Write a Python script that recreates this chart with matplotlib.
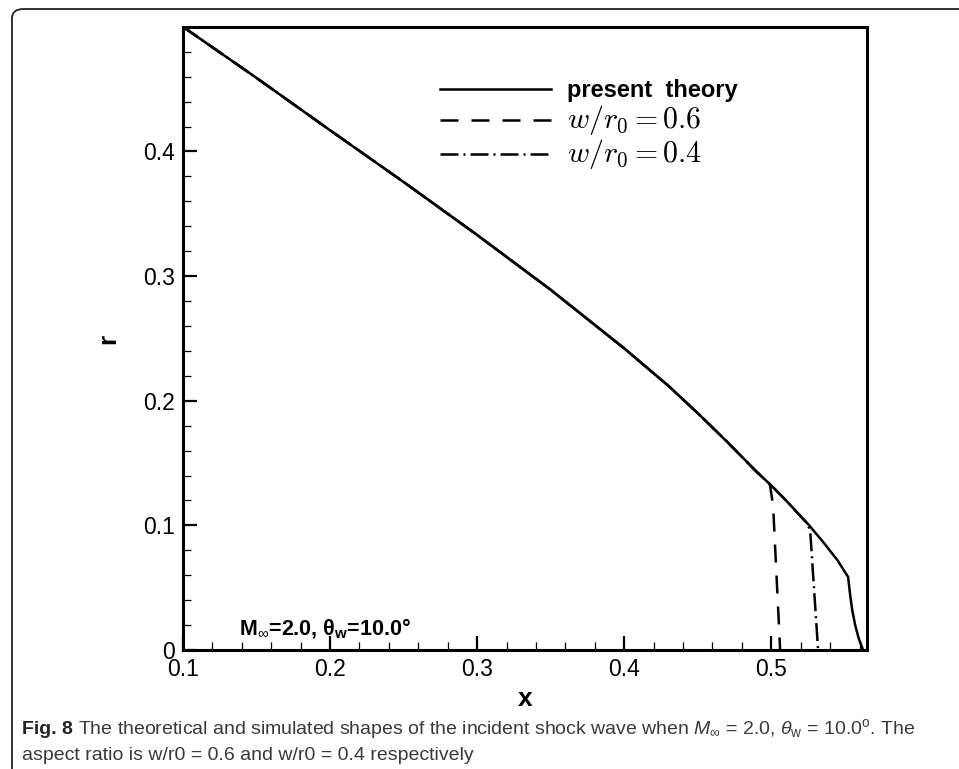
import matplotlib
matplotlib.use('Agg')
import matplotlib.pyplot as plt
from matplotlib.ticker import MultipleLocator, FormatStrFormatter
from matplotlib.patches import FancyBboxPatch

# shock shape, present theory
x_theory = [0.1, 0.15, 0.2, 0.25, 0.3, 0.35, 0.4, 0.43, 0.45, 0.47, 0.49, 0.5,
            0.51, 0.525, 0.535, 0.545, 0.5522, 0.5535, 0.555, 0.557, 0.5595, 0.5624]
r_theory = [0.5, 0.459, 0.417, 0.3755, 0.333, 0.289, 0.242, 0.212, 0.19, 0.167, 0.143, 0.132,
            0.12, 0.101, 0.087, 0.072, 0.0586, 0.045, 0.032, 0.02, 0.009, 0.0]

# simulation w/r0 = 0.6
x_w06 = [0.1, 0.15, 0.2, 0.25, 0.3, 0.35, 0.4, 0.43, 0.45, 0.47, 0.49, 0.499, 0.5012, 0.506]
r_w06 = [0.5, 0.459, 0.417, 0.3755, 0.333, 0.289, 0.242, 0.212, 0.19, 0.167, 0.143, 0.133, 0.116, 0.0]

# simulation w/r0 = 0.4
x_w04 = [0.1, 0.15, 0.2, 0.25, 0.3, 0.35, 0.4, 0.43, 0.45, 0.47, 0.49, 0.5, 0.51, 0.524, 0.5264, 0.5318]
r_w04 = [0.5, 0.459, 0.417, 0.3755, 0.333, 0.289, 0.242, 0.212, 0.19, 0.167, 0.143, 0.132, 0.12, 0.102, 0.096, 0.0]

labels = ['present  theory', r'$w/r_0=0.6$', r'$w/r_0=0.4$']

plt.rcParams['font.family'] = ['Liberation Sans', 'DejaVu Sans']
plt.rcParams['mathtext.fontset'] = 'custom'
plt.rcParams['mathtext.rm'] = 'Liberation Sans'
plt.rcParams['mathtext.it'] = 'Liberation Sans:italic'
plt.rcParams['mathtext.bf'] = 'Liberation Sans:bold'

fig = plt.figure(figsize=(9.59, 7.69), dpi=100)
ax = fig.add_axes([0.1908, 0.1547, 0.7132, 0.8101])

lw = 1.8
ax.plot(x_theory, r_theory, color='black', lw=lw, label=labels[0])
ax.plot(x_w06, r_w06, color='black', lw=lw, dashes=(7.2, 5.2), label=labels[1])
ax.plot(x_w04, r_w04, color='black', lw=lw, dashes=(7.2, 2, 0.8, 2), label=labels[2])

ax.set_xlim(0.1, 0.565)
ax.set_ylim(0, 0.4998)
ax.xaxis.set_major_locator(MultipleLocator(0.1))
ax.xaxis.set_minor_locator(MultipleLocator(0.02))
ax.yaxis.set_major_locator(MultipleLocator(0.1))
ax.yaxis.set_minor_locator(MultipleLocator(0.02))
ax.xaxis.set_major_formatter(FormatStrFormatter('%g'))
ax.yaxis.set_major_formatter(FormatStrFormatter('%g'))
ax.tick_params(which='both', direction='in', top=False, right=False, labelsize=16.5)
ax.tick_params(which='major', length=10, width=1.6, pad=6)
ax.tick_params(which='minor', length=6, width=0.9)
for s in ax.spines.values():
    s.set_linewidth(2.2)

ax.set_xlabel('x', fontsize=19, fontweight='bold', labelpad=4)
ax.set_ylabel('r', fontsize=19, fontweight='bold', labelpad=16)

leg = ax.legend(loc='upper left', bbox_to_anchor=(0.345, 0.95), frameon=False,
                handlelength=4.7, handletextpad=0.65, labelspacing=0.02, fontsize=17)
texts = leg.get_texts()
texts[0].set_fontweight('bold')
for t in texts[1:]:
    t.set_math_fontfamily('cm')
    t.set_fontsize(21.5)

ax.text(0.082, 0.034, 'M$_{\\infty}$=2.0, θ$_{\\mathbf{w}}$=10.0°',
        transform=ax.transAxes, fontsize=15.5, fontweight='bold', va='center', ha='left')

# page frame of the figure panel
frame = FancyBboxPatch((12 / 959, -0.1), 1.2, (769 - 9) / 769 + 0.1,
                       boxstyle='round,pad=0,rounding_size=0.012',
                       transform=fig.transFigure, fill=False, lw=1.3, ec='#222222')
fig.patches.append(frame)

cap_font = ['Liberation Sans Narrow', 'Liberation Sans', 'DejaVu Sans']
t1 = fig.text(22 / 959, 1 - 729 / 769, 'Fig. 8', fontsize=14, fontweight='bold',
              family=cap_font, color='#222222', va='center')
fig.canvas.draw()
bb = t1.get_window_extent()
fig.text((bb.x1 + 5) / 959, 1 - 729 / 769,
         r'The theoretical and simulated shapes of the incident shock wave when $M_{\infty}$ = 2.0, '
         r'$\theta_{\mathrm{w}}$ = 10.0$^{\mathrm{o}}$. The',
         fontsize=14, family=cap_font, color='#3a3a3a', va='center')
fig.text(22 / 959, 1 - 756 / 769, 'aspect ratio is w/r0 = 0.6 and w/r0 = 0.4 respectively',
         fontsize=14, family=cap_font, color='#3a3a3a', va='center')

fig.savefig('out.png', dpi=100)
